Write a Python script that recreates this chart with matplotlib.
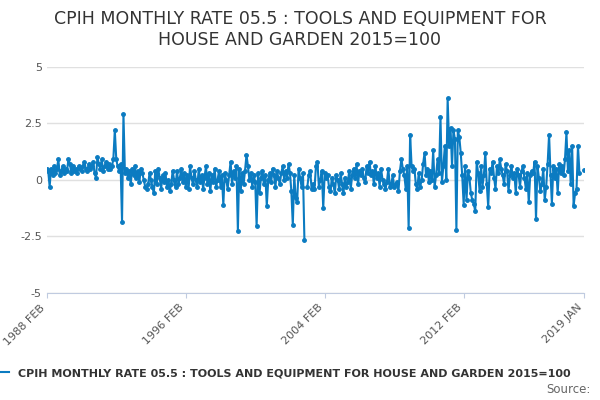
import numpy as np
import pandas as pd
from matplotlib import pyplot as plt

# monthly rate, one row per year starting 1988 FEB
rate_rows = [
    [0.5, 0.4, -0.3, 0.5, 0.2, 0.6, 0.3, 0.5, 0.9, 0.2, 0.4, 0.6],   # 1988-89
    [0.3, 0.5, 0.4, 0.9, 0.7, 0.3, 0.6, 0.4, 0.5, 0.3, 0.6, 0.5],
    [0.4, 0.6, 0.8, 0.5, 0.4, 0.7, 0.5, 0.6, 0.8, 0.3, 0.1, 1.0],
    [0.7, 0.5, 0.9, 0.4, 0.6, 0.8, 0.5, 0.7, 0.5, 0.6, 0.9, 2.2],
    [0.9, 0.6, 0.4, 0.7, -1.85, 2.9, 0.3, 0.5, 0.1, 0.4, -0.2, 0.5],
    [0.2, 0.6, 0.1, 0.4, -0.1, 0.5, 0.3, 0.0, -0.3, -0.4, -0.2, 0.3],
    [0.0, -0.3, -0.6, 0.4, -0.2, 0.5, 0.1, -0.4, 0.2, -0.1, 0.3, -0.3],
    [0.0, -0.5, -0.2, 0.4, 0.0, -0.3, 0.4, -0.2, 0.1, 0.5, -0.1, 0.3],
    [-0.3, 0.2, -0.4, 0.6, 0.1, -0.2, 0.4, 0.0, -0.3, 0.5, -0.1, 0.2],
    [-0.4, 0.1, 0.6, -0.2, 0.3, -0.5, 0.2, -0.1, 0.5, -0.3, 0.0, 0.4],
    [-0.3, 0.2, -1.1, 0.3, 0.0, -0.4, 0.2, 0.8, -0.2, 0.4, 0.1, 0.6],
    [-2.25, 0.5, -0.5, 0.3, -0.2, 0.4, 1.1, 0.6, 0.0, 0.3, -0.3, 0.2],
    [-0.1, -2.05, 0.3, -0.6, 0.1, 0.4, -0.2, 0.2, -1.15, 0.0, 0.3, -0.1],
    [0.5, 0.2, -0.3, 0.4, 0.1, -0.2, 0.3, 0.6, 0.0, 0.4, 0.1, 0.7],
    [0.3, -0.5, -2.0, 0.2, -0.8, -1.0, 0.5, 0.1, -0.3, 0.3, -2.65, np.nan],
    [-0.3, 0.2, 0.4, -0.4, -0.2, -0.4, 0.6, 0.8, -0.3, 0.0, 0.4, -1.25],
    [0.3, 0.1, 0.2, -0.3, -0.5, 0.1, -0.2, -0.6, 0.2, 0.0, -0.4, 0.3],
    [-0.2, -0.6, 0.1, -0.3, -0.1, 0.4, -0.4, 0.2, 0.5, 0.1, 0.7, -0.2],
    [0.4, 0.2, 0.5, 0.1, -0.1, 0.6, 0.3, 0.8, 0.2, 0.4, -0.2, 0.6],
    [0.1, 0.3, -0.3, 0.5, 0.0, -0.2, -0.4, -0.1, 0.5, -0.3, -0.2, 0.2],
    [-0.3, -0.2, -0.1, -0.5, 0.4, 0.9, 0.5, 0.2, -0.4, 0.6, -2.15, 2.0],
    [0.6, 0.4, 0.5, -0.2, -0.4, 0.3, -0.3, 0.0, 0.7, 1.2, 0.2, 0.5],
    [-0.1, 0.4, 0.0, 1.3, -0.3, 0.2, 0.9, 0.3, 2.8, -0.1, 0.6, 1.5],
    [0.0, 3.6, 1.5, 2.3, 0.6, 2.2, 1.8, -2.2, 2.2, 1.9, 1.2, 0.2],
    [-1.1, 0.6, -0.9, 0.4, 0.1, -0.6, -0.9, -1.05, -1.4, 0.8, 0.3, -0.5],
    [0.6, -0.3, 0.2, 1.2, -0.2, -1.2, 0.5, 0.3, 0.8, 0.1, -0.4, 0.6],
    [0.3, 0.9, 0.5, 0.2, -0.2, 0.7, 0.4, -0.5, 0.2, 0.6, 0.1, 0.3],
    [-0.6, 0.5, 0.2, -0.3, 0.4, 0.6, 0.1, -0.4, 0.3, -1.0, 0.2, 0.4],
    [0.3, 0.8, -1.75, 0.6, 0.1, -0.5, -0.2, 0.5, -0.9, -0.3, 0.7, 2.0],
    [0.2, -1.05, 0.6, 0.1, 0.5, -0.6, 0.7, 0.3, 0.6, 0.2, 0.9, 2.1],
    [0.4, 1.3, -0.2, 1.5, -1.15, -0.6, -0.4, 1.5, 0.3, np.nan, np.nan, 0.45],
]
rates = np.concatenate(rate_rows)
months = pd.date_range("1988-02-01", periods=len(rates), freq="MS")

tick_dates = pd.to_datetime(["1988-02-01", "1996-02-01", "2004-02-01", "2012-02-01", "2019-01-01"])
tick_labels = ["1988 FEB", "1996 FEB", "2004 FEB", "2012 FEB", "2019 JAN"]

color = "#0b7bc1"
fig = plt.figure(figsize=(6, 4), dpi=100)
ax = fig.add_axes([0.078, 0.268, 0.895, 0.565])
ax.plot(months, rates, color=color, lw=1.5, marker="o", ms=2.5)
ax.set_ylim(-5, 5)
ax.set_yticks([-5, -2.5, 0, 2.5, 5])
ax.set_yticklabels(["-5", "-2.5", "0", "2.5", "5"], fontsize=8, color="#555555")
ax.set_xlim(months[0], months[-1])
ax.set_xticks(tick_dates)
ax.set_xticklabels(tick_labels, rotation=45, ha="right", fontsize=8, color="#555555")
ax.grid(axis="y", color="#e0e0e0", lw=1)
ax.tick_params(axis="y", length=0)
ax.tick_params(axis="x", color="#c0cbe0")
for s in ["top", "right", "left"]:
    ax.spines[s].set_visible(False)
ax.spines["bottom"].set_color("#c0cbe0")

fig.suptitle("CPIH MONTHLY RATE 05.5 : TOOLS AND EQUIPMENT FOR\nHOUSE AND GARDEN 2015=100",
             fontsize=12.5, color="#333333", y=0.975)
fig.legend([plt.Line2D([], [], color=color, lw=1.5)],
           ["CPIH MONTHLY RATE 05.5 : TOOLS AND EQUIPMENT FOR HOUSE AND GARDEN 2015=100"],
           loc="lower left", bbox_to_anchor=(-0.03, 0.03), frameon=False,
           prop={"size": 8, "weight": "bold"}, labelcolor="#333333", handlelength=1.5)
fig.text(0.985, 0.01, "Source:", ha="right", va="bottom", fontsize=8.5, color="#666666")
fig.savefig("out.png")
